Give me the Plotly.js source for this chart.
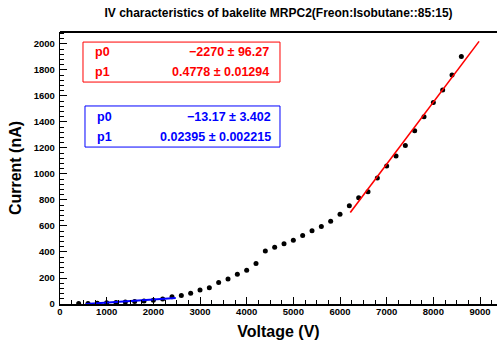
<!DOCTYPE html>
<html>
<head>
<meta charset="utf-8">
<script src="https://cdn.plot.ly/plotly-3.0.1.min.js"></script>
<style>html,body{margin:0;padding:0;background:#fff;}#chart{width:497px;height:340px;}</style>
</head>
<body>
<div id="chart"></div>
<script>
// Data
const voltage = [400, 600, 800, 1000, 1200, 1400, 1600, 1800, 2000, 2200, 2400, 2600, 2800, 3000,
  3200, 3400, 3600, 3800, 4000, 4200, 4400, 4600, 4800, 5000, 5200, 5400, 5600, 5800, 6000,
  6200, 6400, 6600, 6800, 7000, 7200, 7400, 7600, 7800, 8000, 8200, 8400, 8600];
const current = [3, 3, 5, 9, 12, 15, 20, 23, 28, 38, 55, 66, 82, 108,
  125, 165, 192, 229, 259, 311, 408, 436, 463, 490, 527, 563, 596, 637, 690,
  755, 818, 864, 970, 1062, 1138, 1220, 1333, 1441, 1549, 1646, 1762, 1903];

// Fit line endpoints (as drawn)
const lowFitV = [550, 2480];
const lowFitI = [0, 46];
const highFitV = [6220, 8980];
const highFitI = [703, 2020];

// Fit parameter box texts
const redLabels = ["p0", "p1"];
const redValues = ["\u22122270 \u00B1 96.27", "0.4778 \u00B1 0.01294"];
const blueLabels = ["p0", "p1"];
const blueValues = ["\u221213.17 \u00B1 3.402", "0.02395 \u00B1 0.002215"];

const FONT = "Liberation Sans, Arial, Helvetica, sans-serif";

const traces = [
  {x: voltage, y: current, mode: "markers", type: "scatter",
   marker: {color: "#000", size: 5, symbol: "circle"}, hoverinfo: "skip"},
  {x: lowFitV, y: lowFitI, mode: "lines", type: "scatter",
   line: {color: "#0000ff", width: 2}, hoverinfo: "skip"},
  {x: highFitV, y: highFitI, mode: "lines", type: "scatter",
   line: {color: "#ff0000", width: 1.6}, hoverinfo: "skip"}
];

const annotations = [];
const redY = [0.926, 0.853];
const blueY = [0.6875, 0.614];
for (let i = 0; i < 2; i++) {
  annotations.push({xref: "paper", yref: "paper", x: 0.0755, y: redY[i], xanchor: "left", yanchor: "middle",
    text: "<b>" + redLabels[i] + "</b>", showarrow: false, font: {family: FONT, size: 12.5, color: "#ff0000"}});
  annotations.push({xref: "paper", yref: "paper", x: 0.4828, y: redY[i], xanchor: "right", yanchor: "middle",
    text: "<b>" + redValues[i] + "</b>", showarrow: false, font: {family: FONT, size: 12.5, color: "#ff0000"}});
  annotations.push({xref: "paper", yref: "paper", x: 0.080, y: blueY[i], xanchor: "left", yanchor: "middle",
    text: "<b>" + blueLabels[i] + "</b>", showarrow: false, font: {family: FONT, size: 12.5, color: "#0000ff"}});
  annotations.push({xref: "paper", yref: "paper", x: 0.4874, y: blueY[i], xanchor: "right", yanchor: "middle",
    text: "<b>" + blueValues[i] + "</b>", showarrow: false, font: {family: FONT, size: 12.5, color: "#0000ff"}});
}

const layout = {
  width: 497, height: 340,
  margin: {l: 60, r: 0, t: 32, b: 36},
  paper_bgcolor: "#fff", plot_bgcolor: "#fff",
  showlegend: false,
  title: {text: "<b>IV characteristics of bakelite MRPC2(Freon:Isobutane::85:15)</b>",
          font: {family: FONT, size: 12, color: "#000"}, xref: "paper", x: 0.5, xanchor: "center",
          y: 0.962, yanchor: "middle"},
  xaxis: {
    range: [0, 9364], showgrid: false, zeroline: false,
    showline: true, linecolor: "#000", linewidth: 1.5,
    ticks: "inside", ticklen: 7, tickwidth: 1, tickcolor: "#000", dtick: 1000, tick0: 0,
    minor: {ticks: "inside", ticklen: 4, dtick: 250, tickcolor: "#000", tickwidth: 1},
    tickfont: {family: FONT, size: 9.5, color: "#000", weight: "bold"},
    ticklabelstandoff: -2,
    title: {text: "<b>Voltage (V)</b>", font: {family: FONT, size: 16, color: "#000"}, standoff: 10}
  },
  yaxis: {
    range: [0, 2092], showgrid: false, zeroline: false,
    showline: true, linecolor: "#000", linewidth: 1.2,
    ticks: "inside", ticklen: 7, tickwidth: 1, tickcolor: "#000", dtick: 200, tick0: 0,
    minor: {ticks: "inside", ticklen: 4, dtick: 40, tickcolor: "#000", tickwidth: 1},
    tickfont: {family: FONT, size: 9.5, color: "#000", weight: "bold"},
    ticklabelstandoff: 2,
    title: {text: "<b>Current (nA)</b>", font: {family: FONT, size: 16, color: "#000"}, standoff: 8}
  },
  shapes: [
    {type: "line", xref: "paper", yref: "paper", x0: 0, x1: 1, y0: 1, y1: 1, line: {color: "#000", width: 2}},
    {type: "rect", xref: "paper", yref: "paper", x0: 0.0526, x1: 0.5034, y0: 0.816, y1: 0.963,
     line: {color: "#ff0000", width: 1}, fillcolor: "#fff"},
    {type: "rect", xref: "paper", yref: "paper", x0: 0.0572, x1: 0.5034, y0: 0.577, y1: 0.728,
     line: {color: "#0000ff", width: 1}, fillcolor: "#fff"}
  ],
  annotations: annotations
};

Plotly.newPlot("chart", traces, layout, {staticPlot: true, displayModeBar: false});
</script>
</body>
</html>
